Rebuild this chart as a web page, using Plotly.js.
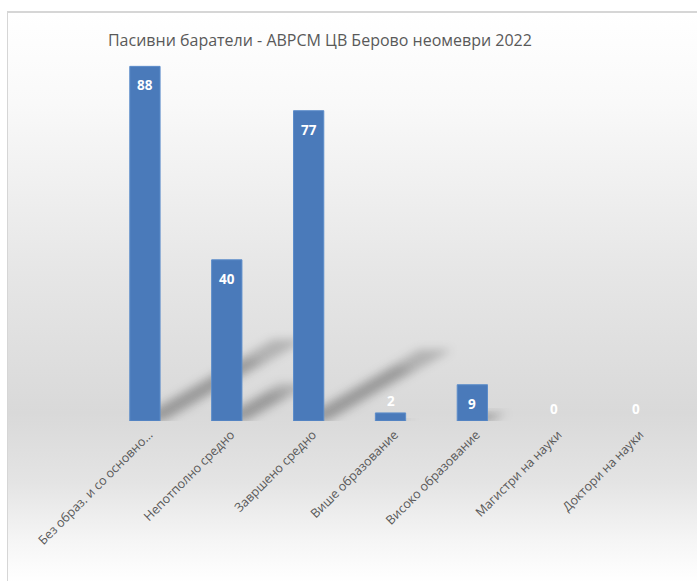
<!DOCTYPE html>
<html>
<head>
<meta charset="utf-8">
<script src="https://cdn.plot.ly/plotly-3.0.1.min.js"></script>
<style>
  html, body { margin: 0; padding: 0; width: 697px; height: 581px; overflow: hidden; background: #ffffff; }
  #frame {
    position: absolute; left: 7px; top: 11px; width: 720px; height: 600px;
    border-top: 2px solid #d6d6d6; border-left: 1px solid #d6d6d6;
    background: linear-gradient(to bottom, #ffffff 0px, #f9f9f9 90px, #e6e6e6 260px, #d9d9d9 400px, #e4e4e4 470px, #f6f6f6 530px, #ffffff 570px);
  }
  #chart { position: absolute; left: 0; top: 0; width: 697px; height: 581px; }
  #chart .shapelayer path { filter: url(#softshadow); }
</style>
</head>
<body>
<svg width="0" height="0" style="position:absolute">
  <defs>
    <filter id="softshadow" x="-50%" y="-50%" width="200%" height="200%">
      <feGaussianBlur stdDeviation="5"/>
    </filter>
  </defs>
</svg>
<div id="frame"></div>
<div id="chart"></div>
<script>
const categories = [
  "Без образ. и со основно…",
  "Непотполно средно",
  "Завршено средно",
  "Више образование",
  "Високо образование",
  "Магистри на науки",
  "Доктори на науки"
];
const values = [88, 40, 77, 2, 9, 0, 0];
const titleText = "Пасивни баратели - АВРСМ ЦВ Берово неомеври 2022";

const idx = categories.map((_, i) => i);
const barWidth = 0.37;
const insideMin = 5; // labels of smaller bars sit above the bar

// soft cast shadows derived from each bar's value
const shapes = [];
const shadowLayers = [
  {hw: 0.2, len: 1.0, op: 0.2},
  {hw: 0.12, len: 0.75, op: 0.14}
];
values.forEach((v, i) => {
  if (v <= 0) return;
  const dx = 0.0195 * v, dy = 0.23 * v;
  shadowLayers.forEach(L => {
    const c = i + 0.05;
    const x0 = c - L.hw, x1 = c + L.hw;
    const ex = dx * L.len, ey = dy * L.len;
    const path = `M ${x0},0 L ${x1},0 L ${x1 + ex},${ey} L ${x0 + ex},${ey} Z`;
    shapes.push({type: 'path', path: path, xref: 'x', yref: 'y', layer: 'below',
      fillcolor: `rgba(0,0,0,${L.op})`, line: {width: 0}});
  });
});

const labelFont = {family: 'Open Sans, sans-serif', size: 13.5, color: '#ffffff', weight: 'bold'};

const bars = {
  type: 'bar',
  x: idx,
  y: values,
  width: barWidth,
  marker: {color: '#4a7aba', line: {color: '#5d8dca', width: values.map(v => v > 0 ? 1 : 0)}},
  hoverinfo: 'skip'
};

const annotations = values.map((v, i) => ({
  x: i, y: v, xref: 'x', yref: 'y',
  text: String(v),
  showarrow: false,
  xanchor: 'center', yanchor: 'middle',
  yshift: v >= insideMin ? -19 : 12,
  font: labelFont
}));

const layout = {
  width: 697, height: 581,
  margin: {l: 104, r: 20, t: 18, b: 160},
  paper_bgcolor: 'rgba(0,0,0,0)',
  plot_bgcolor: 'rgba(0,0,0,0)',
  showlegend: false,
  title: {
    text: titleText,
    font: {family: 'Open Sans, sans-serif', size: 16, color: '#595959'},
    xref: 'container', x: 0.459, xanchor: 'center',
    yref: 'container', y: 1 - 40/581, yanchor: 'middle'
  },
  xaxis: {
    range: [-0.5, 6.5],
    tickmode: 'array', tickvals: idx, ticktext: categories,
    tickangle: -45,
    ticklabelstandoff: 3,
    ticklabelshift: 4,
    showgrid: false, zeroline: false, showline: false, ticks: '',
    tickfont: {family: 'Open Sans, sans-serif', size: 12.5, color: '#595959'},
    fixedrange: true
  },
  yaxis: {
    range: [0, 100],
    visible: false, showgrid: false, zeroline: false, fixedrange: true
  },
  shapes: shapes,
  annotations: annotations
};

Plotly.newPlot('chart', [bars], layout, {displayModeBar: false, staticPlot: true});
</script>
</body>
</html>
